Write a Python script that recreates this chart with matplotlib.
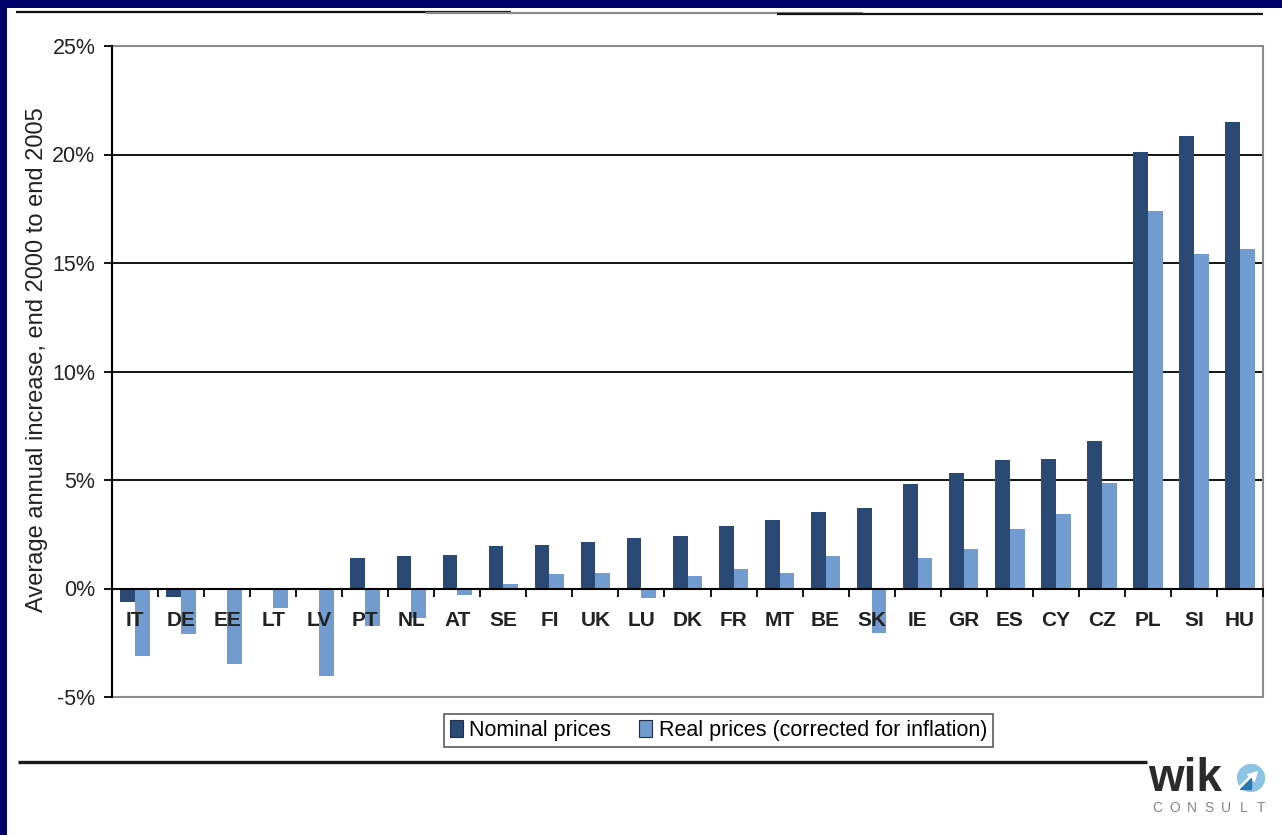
import matplotlib
matplotlib.use("Agg")
import matplotlib.pyplot as plt
from matplotlib.patches import Rectangle, Circle, Polygon
from matplotlib.lines import Line2D
import numpy as np

plt.rcParams['font.family'] = ['Liberation Sans', 'DejaVu Sans']

countries = ["IT", "DE", "EE", "LT", "LV", "PT", "NL", "AT", "SE", "FI", "UK", "LU",
             "DK", "FR", "MT", "BE", "SK", "IE", "GR", "ES", "CY", "CZ", "PL", "SI", "HU"]
nominal = [-0.6, -0.4, 0.0, 0.0, 0.0, 1.4, 1.5, 1.55, 1.95, 2.0, 2.15, 2.33,
           2.42, 2.9, 3.17, 3.53, 3.73, 4.83, 5.33, 5.9, 5.95, 6.8, 20.1, 20.85, 21.5]
real = [-3.1, -2.1, -3.5, -0.9, -4.05, -1.75, -1.35, -0.3, 0.22, 0.68, 0.72, -0.43,
        0.58, 0.9, 0.72, 1.52, -2.05, 1.42, 1.83, 2.75, 3.45, 4.85, 17.4, 15.4, 15.65]
y_ticks = [-5, 0, 5, 10, 15, 20, 25]
series_names = ["Nominal prices", "Real prices (corrected for inflation)"]

W, H = 1282, 835
NAVY = "#00006B"
C_NOM = "#2A4A75"
C_REAL = "#729CCF"

fig = plt.figure(figsize=(W / 100, H / 100), dpi=100, facecolor=NAVY)

# white page inside the navy frame
fig.add_artist(Rectangle((7 / W, 0), 1 - 7 / W, 1 - 8 / H, transform=fig.transFigure,
                         facecolor="white", edgecolor="none", zorder=-10))

# header rules
def hline(x0, x1, y, color, lw):
    fig.add_artist(Line2D([x0 / W, x1 / W], [1 - y / H, 1 - y / H],
                          transform=fig.transFigure, color=color, lw=lw,
                          solid_capstyle="butt"))

hline(16, 511, 11.5, "#111111", 1.6)
hline(425, 863, 12.5, "#8a8a8a", 1.6)
hline(777, 1263, 13.5, "#111111", 1.6)
# footer rule
hline(18, 1147, 762, "#1a1a1a", 2.4)

ax = fig.add_axes([112 / W, 1 - 697 / H, (1263 - 112) / W, (697 - 46) / H])
ax.set_facecolor("white")

x = np.arange(len(countries))
bw = 0.32
ax.bar(x - bw / 2, nominal, width=bw, color=C_NOM, zorder=2, label=series_names[0])
ax.bar(x + bw / 2, real, width=bw, color=C_REAL, zorder=2, label=series_names[1])

ax.set_xlim(-0.5, len(countries) - 0.5)
ax.set_ylim(-5, 25)

# horizontal gridlines behind bars
for v in y_ticks[2:-1]:
    ax.axhline(v, color="black", lw=1.3, zorder=0.8)

# plot area frame
ax.add_patch(Rectangle((0, 0), 1, 1, transform=ax.transAxes, facecolor="none",
                       edgecolor="#8c8c8c", lw=1.5, zorder=0.9, clip_on=False))

for s in ["top", "right"]:
    ax.spines[s].set_visible(False)
ax.spines["left"].set_color("black")
ax.spines["left"].set_linewidth(1.5)
ax.spines["bottom"].set_position(("data", 0))
ax.spines["bottom"].set_color("black")
ax.spines["bottom"].set_linewidth(1.5)
ax.spines["bottom"].set_zorder(3)

ax.set_yticks(y_ticks)
ax.set_yticklabels([f"{v}%" for v in y_ticks])
ax.tick_params(axis="y", direction="out", length=6, width=1.3, pad=6,
               labelsize=15.5, labelcolor="#222222")

ax.set_xticks(x)
ax.set_xticklabels(countries, fontweight="bold")
ax.set_xticks(np.arange(len(countries) + 1) - 0.5, minor=True)
ax.tick_params(axis="x", which="major", length=0, pad=16, labelsize=15,
               labelcolor="#222222")
ax.tick_params(axis="x", which="minor", direction="out", length=6, width=1.3)
ax.xaxis.set_zorder(3)

fig.text(37 / W, 1 - 360 / H, "Average annual increase, end 2000 to end 2005",
         rotation=90, ha="center", va="center", fontsize=17, color="#222222")

leg = fig.legend(loc="center", bbox_to_anchor=(718.5 / W, 1 - 730.5 / H), ncol=2,
                 fontsize=15.5, frameon=True, fancybox=False, shadow=False,
                 handlelength=0.6, handleheight=0.85, handletextpad=0.3,
                 columnspacing=1.3, borderpad=0.28, borderaxespad=0)
leg.get_frame().set_edgecolor("#333333")
leg.get_frame().set_linewidth(1.2)
for h in leg.legend_handles:
    h.set_edgecolor("#1f2f4a")
    h.set_linewidth(0.8)

# company mark in the lower right corner
fig.text(1148 / W, 1 - 791 / H, "wik", fontsize=33, fontweight="bold", color="#2b2b2b",
         ha="left", va="baseline")
for i, ch in enumerate("CONSULT"):
    fig.text((1157 + i * 17.3) / W, 1 - 808 / H, ch, fontsize=10, color="#858585",
             ha="center", va="center")
logo = fig.add_axes([1237 / W, 1 - 792 / H, 28 / W, 28 / H])
logo.set_xlim(0, 1)
logo.set_ylim(0, 1)
logo.set_aspect("equal")
logo.axis("off")
logo.add_patch(Circle((0.5, 0.5), 0.48, color="#8cc4e4"))
logo.add_patch(Polygon([[0.18, 0.08], [0.55, 0.45], [0.62, 0.38], [0.72, 0.72],
                        [0.38, 0.62], [0.45, 0.55], [0.08, 0.18]],
                       closed=True, color="white"))
logo.add_patch(Polygon([[0.1, 0.1], [0.5, 0.1], [0.5, 0.5]], closed=True,
                       color="#2678b0"))

fig.savefig("out.png", dpi=100, facecolor=NAVY)
